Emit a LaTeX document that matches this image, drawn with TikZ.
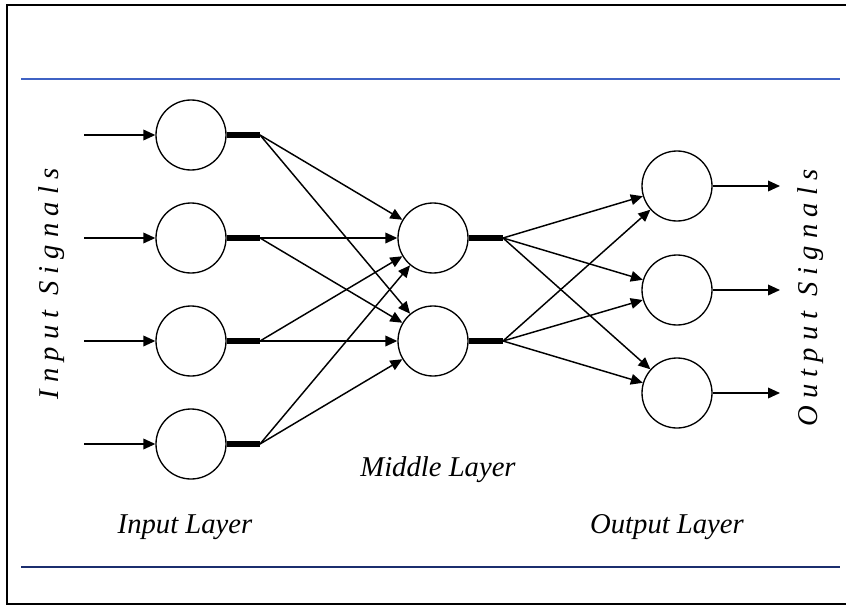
\documentclass[tikz,border=0pt]{standalone}
\usepackage{fontspec}
\setmainfont{Liberation Serif}
\usetikzlibrary{arrows.meta}
\definecolor{topblue}{HTML}{3F62C4}
\definecolor{botblue}{HTML}{1B2E6E}
\begin{document}
\begin{tikzpicture}[x=0.75pt,y=-0.75pt,
  neuron/.style={circle,draw,line width=1pt,minimum size=52.5pt,inner sep=0pt},
  conn/.style={line width=1.1pt,-{Triangle[length=9pt,width=8pt]}},
  bar/.style={line width=4pt},
  lbl/.style={font=\itshape\fontsize{21.5}{25}\selectfont},
  sig/.style={font=\itshape\fontsize{21.5}{25}\selectfont\addfontfeature{LetterSpace=25},rotate=90}]
\useasboundingbox (0,0) rectangle (846,607);
\draw[line width=1.6pt] (7,5) rectangle (850,604);
\coordinate (tl) at (21,79); \coordinate (tr) at (840,79);
\coordinate (bl) at (21,567); \coordinate (br) at (840,567);
\draw[line width=1.4pt,topblue] (tl) -- (tr);
\draw[line width=2.2pt,botblue] (bl) -- (br);
% input layer
\foreach \i/\y in {1/135,2/238,3/341,4/444}{
  \node[neuron] (i\i) at (191,\y) {};
  \coordinate (s\i) at (84,\y);
  \coordinate (b\i) at (260,\y);
  \draw[conn] (s\i) -- (i\i);
  \draw[bar] (i\i.east) -- (b\i);
}
% middle layer
\foreach \i/\y in {1/238,2/341}{
  \node[neuron] (m\i) at (433,\y) {};
  \coordinate (mb\i) at (503,\y);
  \draw[bar] (m\i.east) -- (mb\i);
}
% output layer
\foreach \i/\y in {1/186,2/290,3/393}{
  \node[neuron] (o\i) at (677,\y) {};
  \coordinate (e\i) at (780,\y);
  \draw[conn] (o\i) -- (e\i);
}
\foreach \i in {1,...,4}{
  \foreach \j in {1,2}{
    \draw[conn] (b\i) -- (m\j);
  }
}
\foreach \j in {1,2}{
  \foreach \k in {1,2,3}{
    \draw[conn] (mb\j) -- (o\k);
  }
}
\node[lbl] (ml) at (438,470) {Middle Layer};
\node[lbl] (il) at (185,527) {Input Layer};
\node[lbl] (ol) at (667,527) {Output Layer};
\node[sig] (is) at (52,284) {Input Signals};
\node[sig] (os) at (811,298) {Output Signals};
\end{tikzpicture}
\end{document}
